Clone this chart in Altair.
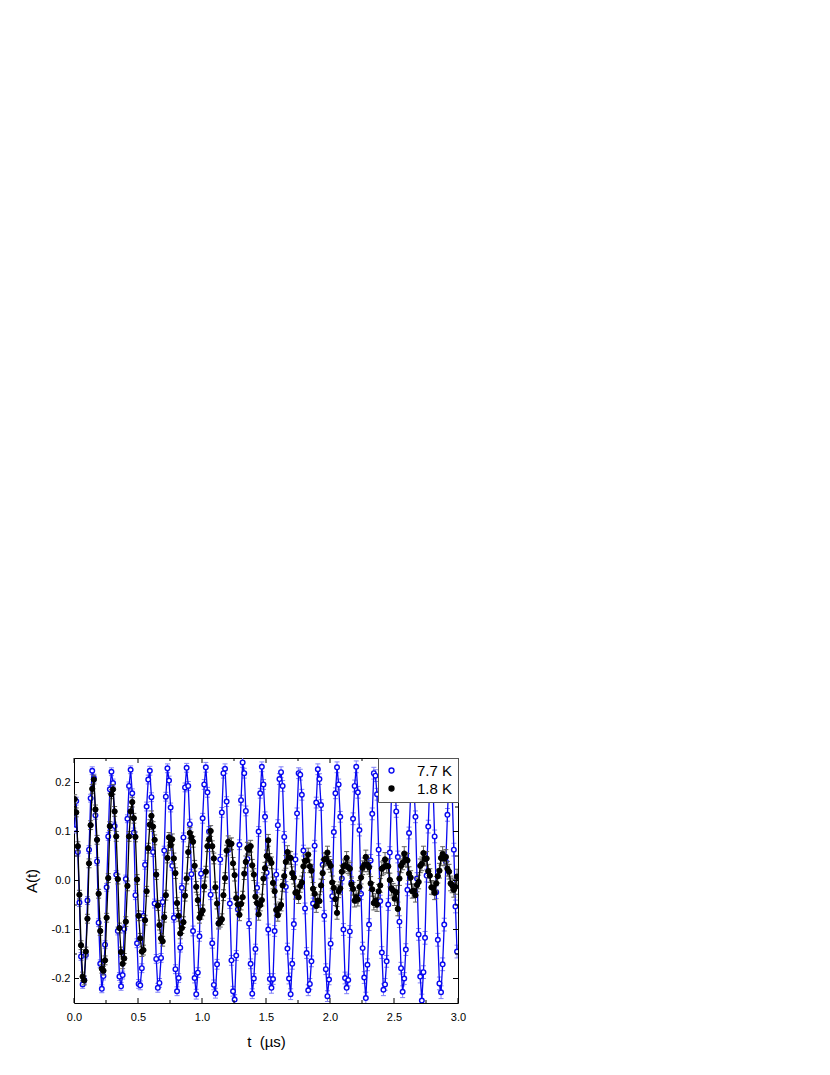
import altair as alt
import numpy as np
import pandas as pd

# time bins (µs)
t_us = [
    0.005, 0.0175, 0.03, 0.0425, 0.055, 0.0675, 0.08, 0.0925, 0.105, 0.1175, 0.13, 0.1425,
    0.155, 0.1675, 0.18, 0.1925, 0.205, 0.2175, 0.23, 0.2425, 0.255, 0.2675, 0.28, 0.2925,
    0.305, 0.3175, 0.33, 0.3425, 0.355, 0.3675, 0.38, 0.3925, 0.405, 0.4175, 0.43, 0.4425,
    0.455, 0.4675, 0.48, 0.4925, 0.505, 0.5175, 0.53, 0.5425, 0.555, 0.5675, 0.58, 0.5925,
    0.605, 0.6175, 0.63, 0.6425, 0.655, 0.6675, 0.68, 0.6925, 0.705, 0.7175, 0.73, 0.7425,
    0.755, 0.7675, 0.78, 0.7925, 0.805, 0.8175, 0.83, 0.8425, 0.855, 0.8675, 0.88, 0.8925,
    0.905, 0.9175, 0.93, 0.9425, 0.955, 0.9675, 0.98, 0.9925, 1.005, 1.0175, 1.03, 1.0425,
    1.055, 1.0675, 1.08, 1.0925, 1.105, 1.1175, 1.13, 1.1425, 1.155, 1.1675, 1.18, 1.1925,
    1.205, 1.2175, 1.23, 1.2425, 1.255, 1.2675, 1.28, 1.2925, 1.305, 1.3175, 1.33, 1.3425,
    1.355, 1.3675, 1.38, 1.3925, 1.405, 1.4175, 1.43, 1.4425, 1.455, 1.4675, 1.48, 1.4925,
    1.505, 1.5175, 1.53, 1.5425, 1.555, 1.5675, 1.58, 1.5925, 1.605, 1.6175, 1.63, 1.6425,
    1.655, 1.6675, 1.68, 1.6925, 1.705, 1.7175, 1.73, 1.7425, 1.755, 1.7675, 1.78, 1.7925,
    1.805, 1.8175, 1.83, 1.8425, 1.855, 1.8675, 1.88, 1.8925, 1.905, 1.9175, 1.93, 1.9425,
    1.955, 1.9675, 1.98, 1.9925, 2.005, 2.0175, 2.03, 2.0425, 2.055, 2.0675, 2.08, 2.0925,
    2.105, 2.1175, 2.13, 2.1425, 2.155, 2.1675, 2.18, 2.1925, 2.205, 2.2175, 2.23, 2.2425,
    2.255, 2.2675, 2.28, 2.2925, 2.305, 2.3175, 2.33, 2.3425, 2.355, 2.3675, 2.38, 2.3925,
    2.405, 2.4175, 2.43, 2.4425, 2.455, 2.4675, 2.48, 2.4925, 2.505, 2.5175, 2.53, 2.5425,
    2.555, 2.5675, 2.58, 2.5925, 2.605, 2.6175, 2.63, 2.6425, 2.655, 2.6675, 2.68, 2.6925,
    2.705, 2.7175, 2.73, 2.7425, 2.755, 2.7675, 2.78, 2.7925, 2.805, 2.8175, 2.83, 2.8425,
    2.855, 2.8675, 2.88, 2.8925, 2.905, 2.9175, 2.93, 2.9425, 2.955, 2.9675, 2.98, 2.9925,
]

# asymmetry at 7.7 K (open blue circles)
a_7p7K = [
    0.105, 0.162, 0.058, -0.045, -0.155, -0.212, -0.203, -0.152, -0.041, 0.063, 0.168, 0.224,
    0.209, 0.133, 0.039, -0.086, -0.170, -0.221, -0.195, -0.131, -0.014, 0.090, 0.186, 0.222,
    0.199, 0.111, 0.012, -0.103, -0.196, -0.216, -0.193, -0.099, 0.003, 0.126, 0.193, 0.226,
    0.178, 0.098, -0.030, -0.128, -0.211, -0.214, -0.179, -0.072, 0.032, 0.151, 0.206, 0.224,
    0.170, 0.058, -0.047, -0.160, -0.219, -0.209, -0.158, -0.044, 0.061, 0.171, 0.229, 0.204,
    0.149, 0.030, -0.076, -0.181, -0.226, -0.199, -0.137, -0.015, 0.088, 0.190, 0.230, 0.193,
    0.115, 0.013, -0.103, -0.199, -0.232, -0.188, -0.114, 0.014, 0.127, 0.196, 0.231, 0.180,
    0.100, -0.029, -0.128, -0.213, -0.230, -0.171, -0.087, 0.043, 0.139, 0.219, 0.228, 0.161,
    0.062, -0.047, -0.163, -0.226, -0.243, -0.153, -0.059, 0.073, 0.164, 0.241, 0.219, 0.142,
    0.044, -0.088, -0.170, -0.231, -0.200, -0.140, -0.015, 0.100, 0.178, 0.232, 0.196, 0.130,
    0.016, -0.100, -0.201, -0.219, -0.201, -0.103, 0.012, 0.113, 0.207, 0.221, 0.193, 0.089,
    -0.013, -0.139, -0.200, -0.232, -0.170, -0.089, 0.043, 0.137, 0.219, 0.216, 0.175, 0.061,
    -0.057, -0.148, -0.224, -0.211, -0.165, -0.047, 0.071, 0.159, 0.227, 0.207, 0.154, 0.032,
    -0.072, -0.181, -0.236, -0.202, -0.129, -0.032, 0.099, 0.178, 0.231, 0.196, 0.130, 0.004,
    -0.100, -0.199, -0.219, -0.203, -0.104, -0.004, 0.126, 0.193, 0.232, 0.180, 0.103, -0.027,
    -0.138, -0.198, -0.240, -0.172, -0.090, 0.041, 0.136, 0.219, 0.214, 0.176, 0.063, -0.042,
    -0.147, -0.223, -0.212, -0.165, -0.049, 0.057, 0.172, 0.213, 0.221, 0.141, 0.048, -0.084,
    -0.179, -0.227, -0.200, -0.141, -0.019, 0.097, 0.175, 0.229, 0.194, 0.130, 0.004, -0.110,
    -0.196, -0.245, -0.187, -0.117, 0.010, 0.110, 0.203, 0.217, 0.191, 0.090, -0.024, -0.121,
    -0.210, -0.228, -0.171, -0.090, 0.039, 0.134, 0.214, 0.212, 0.174, 0.063, -0.053, -0.145,
]

# asymmetry at 1.8 K (filled black circles)
a_1p8K = [
    0.166, 0.139, 0.070, -0.029, -0.132, -0.196, -0.204, -0.145, -0.078, 0.035, 0.113, 0.187,
    0.206, 0.145, 0.083, -0.027, -0.103, -0.180, -0.184, -0.163, -0.076, 0.005, 0.111, 0.176,
    0.186, 0.141, 0.090, 0.003, -0.097, -0.146, -0.170, -0.159, -0.084, -0.011, 0.090, 0.141,
    0.160, 0.127, 0.089, 0.002, -0.072, -0.118, -0.145, -0.142, -0.081, -0.022, 0.066, 0.114,
    0.132, 0.110, 0.083, 0.012, -0.051, -0.091, -0.118, -0.124, -0.075, -0.030, 0.046, 0.088,
    0.072, 0.084, 0.045, 0.015, -0.046, -0.072, -0.108, -0.097, -0.085, -0.031, 0.004, 0.058,
    0.097, 0.088, 0.079, 0.030, -0.013, -0.040, -0.076, -0.068, -0.061, -0.012, 0.018, 0.070,
    0.084, 0.101, 0.070, 0.045, -0.014, -0.047, -0.088, -0.084, -0.079, -0.030, 0.005, 0.061,
    0.079, 0.074, 0.075, 0.035, 0.011, -0.036, -0.049, -0.070, -0.048, -0.034, 0.014, 0.038,
    0.066, 0.063, 0.070, 0.031, 0.012, -0.033, -0.046, -0.069, -0.050, -0.040, 0.004, 0.025,
    0.050, 0.082, 0.043, 0.036, -0.005, -0.022, -0.060, -0.071, -0.056, -0.050, -0.010, 0.009,
    0.038, 0.058, 0.047, 0.046, 0.015, 0.006, -0.025, -0.024, -0.034, -0.011, -0.004, 0.029,
    0.040, 0.041, 0.053, 0.029, 0.020, -0.017, -0.027, -0.052, -0.041, -0.042, -0.010, 0.015,
    0.043, 0.044, 0.057, 0.036, 0.030, -0.004, -0.015, -0.038, -0.066, -0.022, -0.016, 0.018,
    0.029, 0.031, 0.046, 0.027, 0.024, -0.008, -0.017, -0.041, -0.034, -0.039, -0.013, 0.006,
    0.026, 0.032, 0.048, 0.032, 0.027, -0.006, -0.018, -0.046, -0.041, -0.049, -0.022, -0.010,
    0.024, 0.027, 0.043, 0.030, 0.029, 0.001, -0.016, -0.020, -0.037, -0.024, -0.058, 0.004,
    0.030, 0.036, 0.055, 0.043, 0.041, 0.014, 0.006, -0.022, -0.021, -0.030, -0.009, -0.003,
    0.030, 0.034, 0.056, 0.044, 0.045, 0.019, 0.010, -0.014, -0.015, -0.025, -0.006, 0.009,
    0.020, 0.046, 0.054, 0.045, 0.048, 0.024, 0.018, -0.006, -0.010, -0.019, -0.013, 0.008,
]

# error bar half-heights, one value per group of 12 bins
err_7p7K_groups = [0.008, 0.008, 0.008, 0.009, 0.009, 0.009, 0.010, 0.010, 0.010, 0.010,
                   0.011, 0.011, 0.011, 0.011, 0.012, 0.012, 0.012, 0.012, 0.013, 0.013]
err_1p8K_groups = [0.009, 0.009, 0.010, 0.010, 0.010, 0.011, 0.011, 0.011, 0.012, 0.012,
                   0.012, 0.013, 0.013, 0.013, 0.013, 0.014, 0.014, 0.014, 0.014, 0.015]

series_names = ["7.7 K", "1.8 K"]
x_major = [0.0, 0.5, 1.0, 1.5, 2.0, 2.5, 3.0]
x_minor = [0.25, 0.75, 1.25, 1.75, 2.25, 2.75]
y_major = [-0.2, -0.1, 0.0, 0.1, 0.2]
y_minor = [-0.15, -0.05, 0.05, 0.15]

BLUE = "#0808f0"
BLUE_ERR = "#7f7ff8"
BLACK = "#000000"
BLACK_ERR = "#5e5e5e"
FONT = "Liberation Sans"
W, H = 384, 245


def frame(vals, errs, name):
    e = np.repeat(errs, 12)[: len(t_us)]
    v = np.array(vals)
    return pd.DataFrame({"t": t_us, "A": v, "lo": v - e, "hi": v + e, "series": name})


df = pd.concat([frame(a_7p7K, err_7p7K_groups, series_names[0]),
                frame(a_1p8K, err_1p8K_groups, series_names[1])], ignore_index=True)

xs = alt.Scale(domain=[0, 3], nice=False, zero=False)
ys = alt.Scale(domain=[-0.25, 0.25], nice=False, zero=False)

x_axis = alt.Axis(values=x_major, format=".1f", title="t\u00a0\u00a0(µs)", ticks=False, domain=False,
                  grid=False, labelFont=FONT, labelFontSize=11, labelColor="black", labelPadding=8,
                  labelFlush=False, labelOverlap=False, titleFont=FONT, titleFontSize=15,
                  titleFontWeight="normal", titleColor="black", titlePadding=12)
y_axis = alt.Axis(values=y_major,
                  labelExpr="datum.value < 0 ? '-' + format(-datum.value, '.1f') : format(datum.value, '.1f')",
                  title="A(t)", ticks=False, domain=False, grid=False, labelFont=FONT,
                  labelFontSize=11, labelColor="black", labelPadding=4, labelFlush=False,
                  labelOverlap=False, titleFont=FONT, titleFontSize=15, titleFontWeight="normal",
                  titleColor="black", titlePadding=12)


def X(field):
    return alt.X(field, scale=xs, axis=x_axis)


def Y(field):
    return alt.Y(field, scale=ys, axis=y_axis)


legend = alt.Legend(title=None, orient="top-right", offset=0, strokeColor="#555555",
                    fillColor="white", padding=5, labelFont=FONT, labelFontSize=15,
                    labelColor="black", symbolSize=24, symbolStrokeWidth=1.4,
                    labelOffset=18, rowPadding=2, symbolOffset=1)
STROKE = alt.Stroke("series:N", scale=alt.Scale(domain=series_names, range=[BLUE, BLACK]), legend=legend)
FILL = alt.Fill("series:N", scale=alt.Scale(domain=series_names, range=["white", BLACK]), legend=legend)

base = alt.Chart(df)


def series_layers(name, line_color, err_color, size, sw):
    src = base.transform_filter(alt.datum.series == name)
    line = src.mark_line(color=line_color, strokeWidth=1.3, clip=True).encode(x=X("t:Q"), y=Y("A:Q"))
    err = src.mark_rule(color=err_color, strokeWidth=1, clip=True).encode(
        x=X("t:Q"), y=Y("lo:Q"), y2="hi:Q")
    caps = src.transform_fold(["lo", "hi"], as_=["end", "yv"]).mark_tick(
        orient="horizontal", size=5, thickness=1, color=err_color, opacity=1, clip=True).encode(
        x=X("t:Q"), y=Y("yv:Q"))
    pts = src.mark_point(shape="circle", size=size, strokeWidth=sw, opacity=1, clip=True).encode(
        x=X("t:Q"), y=Y("A:Q"), stroke=STROKE, fill=FILL)
    return [err, caps, line, pts]


def tick_layer(vals, axis, length):
    d = alt.Chart(pd.DataFrame({"v": vals}))
    layers = []
    if axis == "x":
        layers.append(d.mark_rule(color="black", strokeWidth=1).encode(
            x=X("v:Q"), y=alt.value(H), y2=alt.value(H - length)))
        layers.append(d.mark_rule(color="black", strokeWidth=1).encode(
            x=X("v:Q"), y=alt.value(0), y2=alt.value(length)))
    else:
        layers.append(d.mark_rule(color="black", strokeWidth=1).encode(
            y=Y("v:Q"), x=alt.value(0), x2=alt.value(length)))
        layers.append(d.mark_rule(color="black", strokeWidth=1).encode(
            y=Y("v:Q"), x=alt.value(W), x2=alt.value(W - length)))
    return layers


layers = []
layers += series_layers(series_names[0], BLUE, BLUE_ERR, 21, 1.4)
layers += series_layers(series_names[1], BLACK, BLACK_ERR, 28, 1.0)
layers += tick_layer(x_major, "x", 5)
layers += tick_layer(x_minor, "x", 3)
layers += tick_layer(y_major, "y", 5)
layers += tick_layer(y_minor, "y", 3)

chart = alt.layer(*layers).properties(
    width=W, height=H,
    autosize=alt.AutoSizeParams(type="none"),
    padding={"left": 66, "top": 750, "right": 12, "bottom": 62},
    background="white",
).configure_view(stroke="black", strokeWidth=1)

chart.save("out.html", embed_options={"renderer": "svg", "actions": False})
